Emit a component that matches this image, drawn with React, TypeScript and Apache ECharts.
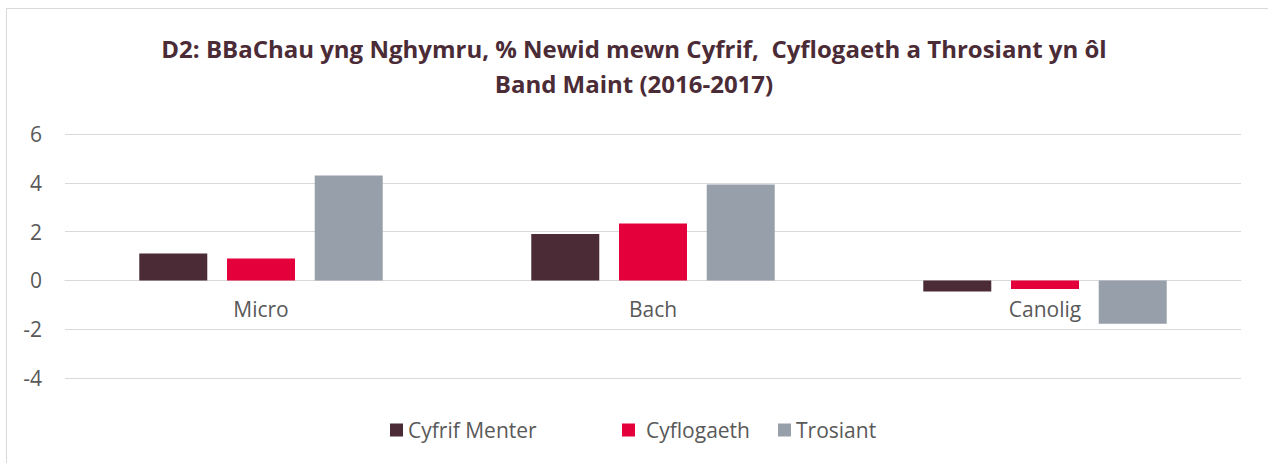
import React, { useEffect, useRef } from "react";
import * as echarts from "echarts";

const categories = ["Micro", "Bach", "Canolig"];
const seriesNames = ["Cyfrif Menter", "Cyflogaeth", "Trosiant"];
const cyfrifMenter = [1.1, 1.9, -0.45];
const cyflogaeth = [0.9, 2.33, -0.35];
const trosiant = [4.3, 3.93, -1.78];
const colors = ["#4a2b36", "#e4003b", "#979fab"];
const yMin = -4;
const yMax = 6;
const yInterval = 2;
const titleText =
  "D2: BBaChau yng Nghymru, % Newid mewn Cyfrif,  Cyflogaeth a Throsiant yn ôl\nBand Maint (2016-2017)";

const FONT = "'Open Sans', 'Noto Sans', sans-serif";

export default function App() {
  const ref = useRef<HTMLDivElement>(null);
  useEffect(() => {
    if (!ref.current) return;
    const chart = echarts.init(ref.current, undefined, { renderer: "svg" });
    const values = [cyfrifMenter, cyflogaeth, trosiant];
    const legendLefts = [385, 617, 773];
    const gridTop = 134;
    const gridBottom = 85;
    const plotH = 463 - gridTop - gridBottom;
    const zeroOffset = -(plotH * (0 - yMin)) / (yMax - yMin);
    chart.setOption({
      animation: false,
      textStyle: { fontFamily: FONT },
      title: {
        text: titleText,
        left: "center",
        top: 26,
        textStyle: {
          fontFamily: FONT,
          fontSize: 24,
          fontWeight: "bold",
          color: "#4a2b36",
          lineHeight: 35,
        },
      },
      legend: seriesNames.map((n, i) => ({
        data: [n],
        left: legendLefts[i],
        top: 414,
        itemWidth: 13,
        itemHeight: 13,
        itemGap: 6,
        icon: "rect",
        textStyle: {
          fontFamily: FONT,
          fontSize: 21,
          lineHeight: 22,
          color: "#595959",
          padding: [0, 0, 0, i === 1 ? 6 : 0],
        },
      })),
      grid: { left: 65, right: 27, top: gridTop, bottom: gridBottom, containLabel: false },
      xAxis: {
        type: "category",
        data: categories,
        offset: zeroOffset,
        axisLine: { onZero: false, lineStyle: { color: "#d9d9d9", width: 1 } },
        axisTick: { show: false },
        axisLabel: { fontFamily: FONT, fontSize: 21, color: "#595959", margin: 18 },
      },
      yAxis: {
        type: "value",
        min: yMin,
        max: yMax,
        interval: yInterval,
        axisLine: { show: false },
        axisTick: { show: false },
        axisLabel: { fontFamily: FONT, fontSize: 21, color: "#595959", margin: 23 },
        splitLine: { lineStyle: { color: "#d9d9d9", width: 1 } },
      },
      series: seriesNames.map((n, i) => ({
        name: n,
        type: "bar",
        data: values[i],
        barWidth: 68,
        barGap: "29%",
        itemStyle: { color: colors[i] },
      })),
    });
    return () => chart.dispose();
  }, []);
  return (
    <div style={{ position: "fixed", left: 0, top: 0, width: 1268, height: 463, background: "#fff" }}>
      <div
        style={{
          position: "absolute",
          left: 6,
          top: 8,
          width: 1270,
          height: 470,
          border: "1px solid #d9d9d9",
          boxSizing: "border-box",
        }}
      />
      <div ref={ref} style={{ position: "absolute", left: 0, top: 0, width: 1268, height: 463 }} />
    </div>
  );
}
